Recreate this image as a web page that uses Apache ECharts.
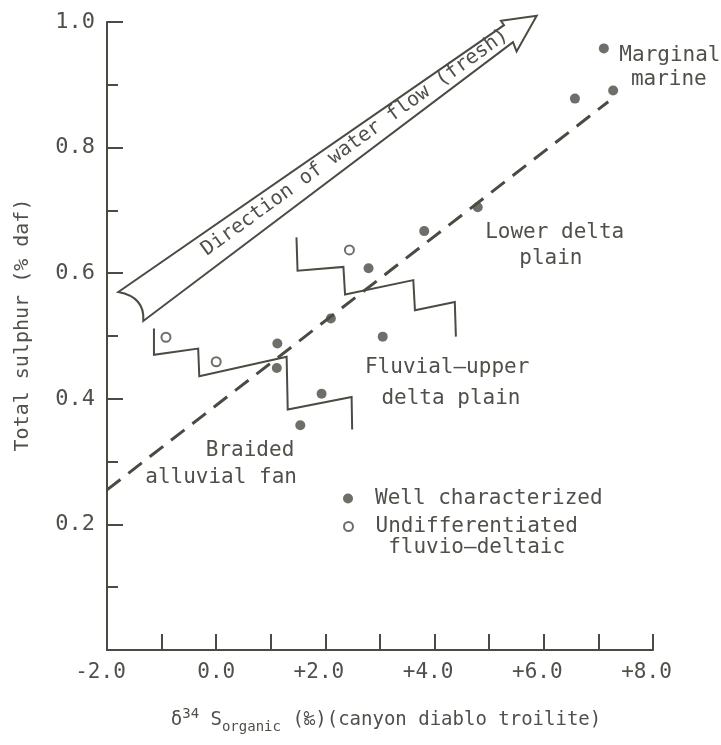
<!DOCTYPE html>
<html>
<head>
<meta charset="utf-8">
<script src="https://cdn.jsdelivr.net/npm/echarts@6/dist/echarts.min.js"></script>
<style>
  html, body { margin: 0; padding: 0; background: #ffffff; }
  #chart { width: 721px; height: 745px; }
</style>
</head>
<body>
<div id="chart"></div>
<script>
// δ34S of organic sulphur against total sulphur, grouped by depositional setting.

// Coal samples with a well characterized depositional environment: [δ34S ‰, total S %]
const wellCharacterized = [
  [1.12, 0.488], [1.11, 0.449], [1.93, 0.408], [1.54, 0.358],
  [2.10, 0.528], [2.79, 0.608], [3.05, 0.499], [3.81, 0.667],
  [4.79, 0.705], [6.57, 0.878], [7.10, 0.958], [7.27, 0.891]
];
// Undifferentiated fluvio-deltaic samples
const undifferentiated = [
  [-0.92, 0.498], [0.00, 0.459], [2.44, 0.637]
];
// Fitted trend (dashed)
const trendLine = [[-2.0, 0.255], [7.18, 0.873]];

// Stepped boundaries between depositional settings
const braidedFluvialBoundary = [
  [-1.14, 0.512], [-1.14, 0.470], [-0.33, 0.480], [-0.31, 0.436],
  [1.29, 0.467], [1.31, 0.383], [2.48, 0.403], [2.49, 0.351]
];
const fluvialLowerDeltaBoundary = [
  [1.47, 0.657], [1.49, 0.604], [2.33, 0.610], [2.36, 0.566],
  [3.61, 0.589], [3.64, 0.541], [4.37, 0.554], [4.39, 0.499]
];

// Hollow arrow: tail top, shaft end (top), barb, tip, barb, shaft end (bottom), tail bottom
const arrowOutline = [
  [-1.793, 0.570], [5.271, 0.995], [5.216, 1.002], [5.870, 1.010],
  [5.502, 0.953], [5.436, 0.968], [-1.335, 0.524]
];
const arrowTailBend = [-1.304, 0.562];
const arrowLabelAt = [2.54, 0.808];
const arrowLabel = 'Direction of water flow (fresh)';

// Setting names, one entry per text line
const regionLabels = [
  'Marginal', 'marine', 'Lower delta', 'plain',
  'Fluvial–upper', 'delta plain', 'Braided', 'alluvial fan'
];
const regionLabelAt = [
  [8.31, 0.947], [8.29, 0.908], [6.20, 0.664], [6.13, 0.624],
  [4.23, 0.449], [4.30, 0.400], [0.62, 0.318], [0.09, 0.275]
];

// Axis tick labels
const xLabelValues = [-2, 0, 2, 4, 6, 8];
const xLabelTexts = ['-2.0', '0.0', '+2.0', '+4.0', '+6.0', '+8.0'];
const yLabelValues = [0.2, 0.4, 0.6, 0.8, 1.0];
const yLabelTexts = ['0.2', '0.4', '0.6', '0.8', '1.0'];

const INK = '#4b4b43';
const TEXT = '#50504a';
const FONT = "'DejaVu Sans Mono', monospace";

const chart = echarts.init(document.getElementById('chart'), null, { renderer: 'canvas' });

const option = {
  backgroundColor: '#ffffff',
  animation: false,
  grid: { left: 107, right: 68, top: 22, bottom: 95, containLabel: false },
  legend: [
    {
      data: ['Well characterized'],
      orient: 'vertical', left: 343, top: 488, padding: 0,
      itemWidth: 44, itemHeight: 10, selectedMode: false,
      textStyle: { fontFamily: FONT, fontSize: 21, lineHeight: 21, color: TEXT }
    },
    {
      data: ['Undifferentiated fluvio–deltaic'],
      orient: 'vertical', left: 343, top: 495, padding: 0,
      itemWidth: 44, itemHeight: 9, selectedMode: false,
      // first line left empty so the symbol sits beside "Undifferentiated"
      formatter: () => '\nUndifferentiated\n fluvio–deltaic',
      textStyle: { fontFamily: FONT, fontSize: 21, lineHeight: 21, color: TEXT }
    }
  ],
  xAxis: {
    type: 'value', min: -2, max: 8, interval: 1,
    splitLine: { show: false },
    axisLine: { onZero: false, lineStyle: { color: INK, width: 2 } },
    axisTick: { inside: true, length: 16, lineStyle: { color: INK, width: 2 } },
    axisLabel: {
      margin: 12, color: TEXT, fontFamily: FONT, fontSize: 21,
      formatter: (v) => {
        const i = xLabelValues.indexOf(Math.round(v));
        if (i < 0 || Math.abs(v - Math.round(v)) > 1e-6) return '';
        const t = xLabelTexts[i];
        return t === '0.0' ? '{n|' + t + '}' : '{s|' + t + '}';
      },
      rich: {
        n: { fontFamily: FONT, fontSize: 21, color: TEXT },
        s: { fontFamily: FONT, fontSize: 21, color: TEXT, padding: [0, 13, 0, 0] }
      }
    },
    name: '{a|δ}{sup|34}{a| S}{sub|organic}{a| (‰)(canyon diablo troilite)}',
    nameLocation: 'middle', nameGap: 56,
    nameTextStyle: {
      color: TEXT, fontFamily: FONT, fontSize: 19, padding: [0, 0, 0, 12],
      rich: {
        a: { fontFamily: FONT, fontSize: 19, color: TEXT, verticalAlign: 'middle' },
        sup: { fontFamily: FONT, fontSize: 14, color: TEXT, verticalAlign: 'middle', padding: [0, 0, 12, 0] },
        sub: { fontFamily: FONT, fontSize: 14, color: TEXT, verticalAlign: 'middle', padding: [14, 0, 0, 0] }
      }
    }
  },
  yAxis: {
    type: 'value', min: 0, max: 1, interval: 0.2,
    splitLine: { show: false },
    minorSplitLine: { show: false },
    axisLine: { onZero: false, lineStyle: { color: INK, width: 2 } },
    axisTick: { inside: true, length: 16, lineStyle: { color: INK, width: 2 } },
    minorTick: { show: true, splitNumber: 2, length: 11, lineStyle: { color: INK, width: 2 } },
    axisLabel: {
      margin: 12, color: TEXT, fontFamily: FONT, fontSize: 22,
      formatter: (v) => {
        const i = yLabelValues.findIndex((y) => Math.abs(y - v) < 1e-6);
        return i < 0 ? '' : yLabelTexts[i];
      }
    },
    name: 'Total sulphur (% daf)',
    nameLocation: 'middle', nameRotate: 90, nameGap: 74,
    nameTextStyle: { color: TEXT, fontFamily: FONT, fontSize: 20, padding: [0, 0, 0, 22] }
  },
  series: [
    {
      name: 'flow arrow', type: 'custom', silent: true, clip: false,
      data: [arrowLabelAt],
      encode: { x: 0, y: 1 },
      renderItem: (params, api) => {
        const p = arrowOutline.map((d) => api.coord(d));
        const c = api.coord(arrowTailBend);
        let path = 'M' + p[0][0] + ' ' + p[0][1];
        for (let i = 1; i < p.length; i++) path += ' L' + p[i][0] + ' ' + p[i][1];
        path += ' Q' + c[0] + ' ' + c[1] + ' ' + p[0][0] + ' ' + p[0][1] + ' Z';
        const last = p.length - 1;
        const tailMid = [(p[0][0] + p[last][0]) / 2, (p[0][1] + p[last][1]) / 2];
        const headMid = [(p[1][0] + p[5][0]) / 2, (p[1][1] + p[5][1]) / 2];
        const angle = Math.atan2(tailMid[1] - headMid[1], headMid[0] - tailMid[0]);
        const t = api.coord(arrowLabelAt);
        return {
          type: 'group',
          children: [
            { type: 'path', shape: { pathData: path },
              style: { fill: '#ffffff', stroke: INK, lineWidth: 2, lineJoin: 'miter' } },
            { type: 'text', x: t[0], y: t[1], rotation: angle,
              style: { text: arrowLabel, font: '20px ' + FONT, fill: TEXT,
                       align: 'center', verticalAlign: 'middle' } }
          ]
        };
      }
    },
    {
      name: 'braided / fluvial', type: 'line', data: braidedFluvialBoundary,
      symbol: 'none', silent: true,
      lineStyle: { color: INK, width: 2, join: 'miter' }
    },
    {
      name: 'fluvial / lower delta', type: 'line', data: fluvialLowerDeltaBoundary,
      symbol: 'none', silent: true,
      lineStyle: { color: INK, width: 2, join: 'miter' }
    },
    {
      name: 'trend', type: 'line', data: trendLine,
      symbol: 'none', silent: true,
      lineStyle: { color: INK, width: 3, type: [17, 10], cap: 'butt' }
    },
    {
      name: 'Well characterized', type: 'scatter', data: wellCharacterized,
      symbol: 'circle', symbolSize: 10,
      itemStyle: { color: INK }
    },
    {
      name: 'Undifferentiated fluvio–deltaic', type: 'scatter', data: undifferentiated,
      symbol: 'emptyCircle', symbolSize: 9,
      itemStyle: { color: INK, borderColor: INK, borderWidth: 1.6 }
    },
    {
      name: 'settings', type: 'custom', silent: true, clip: false,
      data: regionLabelAt,
      encode: { x: 0, y: 1 },
      renderItem: (params, api) => {
        const pt = api.coord([api.value(0), api.value(1)]);
        return {
          type: 'text', x: pt[0], y: pt[1],
          style: { text: regionLabels[params.dataIndex], font: '21px ' + FONT, fill: TEXT,
                   align: 'center', verticalAlign: 'middle' }
        };
      }
    }
  ]
};

chart.setOption(option);
</script>
</body>
</html>
